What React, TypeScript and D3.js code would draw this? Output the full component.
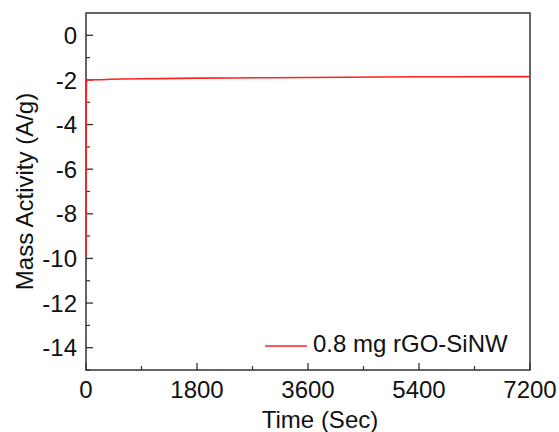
import React from "react";
import * as d3 from "d3";

const timeSec = [0, 1, 3, 6, 10, 20, 40, 80, 150, 250, 400, 600, 900, 1200, 1500, 1800, 2400, 3000, 3600, 4200, 4800, 5400, 6000, 6600, 7200];
const massActivity = [-9.9, -6.0, -3.2, -2.2, -2.02, -2.0, -2.0, -2.0, -1.99, -1.99, -1.97, -1.96, -1.95, -1.94, -1.93, -1.92, -1.91, -1.9, -1.89, -1.88, -1.87, -1.86, -1.86, -1.85, -1.85];
const xTicks = [0, 1800, 3600, 5400, 7200];
const yTicks = [0, -2, -4, -6, -8, -10, -12, -14];
const seriesName = "0.8 mg rGO-SiNW";

export default function App() {
  const W = 559, H = 432;
  const L = 86, R = 530, T = 13, B = 370;
  const x = d3.scaleLinear().domain([0, 7200]).range([L, R]);
  const y = d3.scaleLinear().domain([-15, 1]).range([B, T]);
  const line = d3.line<number>().x((_, i) => x(timeSec[i])).y((d) => y(d));
  const xMinor = d3.range(900, 7200, 1800);
  const yMinor = d3.range(-15, 1, 2);
  const font = "'Liberation Sans', Arial, sans-serif";
  const axisColor = "#333";
  const fs = 24;
  return (
    <svg width={W} height={H} style={{ position: "absolute", left: 0, top: 0, background: "#fff" }} fontFamily={font}>
      <rect x={L} y={T} width={R - L} height={B - T} fill="none" stroke={axisColor} strokeWidth={1.5} />
      {xTicks.map((t) => (
        <g key={"x" + t}>
          <line x1={x(t)} x2={x(t)} y1={B} y2={B - 7} stroke={axisColor} strokeWidth={1.3} />
          <text x={x(t)} y={397.5} fontSize={fs} textAnchor="middle" fill="#111">{t}</text>
        </g>
      ))}
      {xMinor.map((t) => (
        <line key={"xm" + t} x1={x(t)} x2={x(t)} y1={B} y2={B - 4} stroke={axisColor} strokeWidth={1.2} />
      ))}
      {yTicks.map((t) => (
        <g key={"y" + t}>
          <line x1={L} x2={L + 7} y1={y(t)} y2={y(t)} stroke={axisColor} strokeWidth={1.3} />
          <text x={77} y={y(t)} dy="0.36em" fontSize={fs} textAnchor="end" fill="#111">{t}</text>
        </g>
      ))}
      {yMinor.map((t) => (
        <line key={"ym" + t} x1={L} x2={L + 4} y1={y(t)} y2={y(t)} stroke={axisColor} strokeWidth={1.2} />
      ))}
      <path d={line(massActivity) || ""} fill="none" stroke="#ff2020" strokeWidth={1.6} />
      <line x1={265} x2={307} y1={346} y2={346} stroke="#ff2020" strokeWidth={1.6} />
      <text x={313} y={352} fontSize={24} fill="#111">{seriesName}</text>
      <text x={320} y={428} fontSize={fs} textAnchor="middle" fill="#111">Time (Sec)</text>
      <text transform={`translate(33,${(T + B) / 2}) rotate(-90)`} fontSize={fs} textAnchor="middle" fill="#111">Mass Activity (A/g)</text>
    </svg>
  );
}
